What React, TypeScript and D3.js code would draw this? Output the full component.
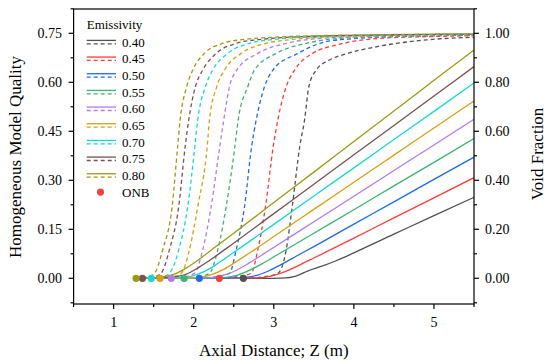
import React from 'react';
import * as d3 from 'd3';

const emissivity = ['0.40', '0.45', '0.50', '0.55', '0.60', '0.65', '0.70', '0.75', '0.80'];
const colors = ['#505050', '#FF3B3B', '#1E6BE6', '#3CB371', '#B27AEE', '#D6A012', '#18D6D6', '#7A5050', '#9A9A14'];
const onbZ = [2.62, 2.32, 2.07, 1.88, 1.72, 1.58, 1.47, 1.36, 1.28];

const qual040 = [[2.62,0],[3.0,0],[3.15,0.001],[3.25,0.005],[3.33,0.012],[3.42,0.022],[3.6,0.037],[3.8,0.056],[4.0,0.078],[4.5,0.135],[5.0,0.192],[5.5,0.248]];
const qual045 = [[2.32,0],[2.7,0.001],[2.85,0.002],[3.0,0.009],[3.15,0.021],[3.3,0.038],[3.5,0.062],[4.0,0.123],[4.5,0.185],[5.0,0.246],[5.5,0.308]];
const qual050 = [[2.07,0],[2.49,0.001],[2.64,0.003],[2.79,0.009],[2.94,0.023],[3.09,0.042],[3.29,0.069],[3.5,0.097],[4.0,0.166],[4.5,0.234],[5.0,0.303],[5.5,0.371]];
const qual055 = [[1.88,0],[2.25,0.001],[2.4,0.003],[2.55,0.01],[2.7,0.025],[2.85,0.044],[3.05,0.073],[3.5,0.138],[4.0,0.21],[4.5,0.283],[5.0,0.355],[5.5,0.428]];
const qual060 = [[1.72,0],[2.1,0.001],[2.25,0.003],[2.4,0.011],[2.55,0.027],[2.7,0.048],[2.9,0.079],[3.5,0.173],[4.0,0.251],[4.5,0.33],[5.0,0.408],[5.5,0.487]];
const qual065 = [[1.58,0],[1.93,0.001],[2.08,0.003],[2.23,0.012],[2.38,0.028],[2.53,0.051],[2.73,0.083],[3.0,0.128],[3.5,0.211],[4.0,0.294],[4.5,0.377],[5.0,0.46],[5.5,0.543]];
const qual070 = [[1.47,0],[1.745,0.001],[1.895,0.003],[2.045,0.012],[2.195,0.029],[2.345,0.053],[2.545,0.087],[3.0,0.165],[3.5,0.252],[4.0,0.338],[4.5,0.425],[5.0,0.511],[5.5,0.598]];
const qual075 = [[1.36,0],[1.6,0.001],[1.75,0.004],[1.9,0.012],[2.05,0.031],[2.2,0.055],[2.4,0.09],[3.0,0.198],[3.5,0.288],[4.0,0.378],[4.5,0.468],[5.0,0.558],[5.5,0.648]];
const qual080 = [[1.28,0],[1.46,0.001],[1.61,0.004],[1.76,0.013],[1.91,0.032],[2.06,0.057],[2.26,0.094],[2.5,0.138],[3.0,0.232],[3.5,0.325],[4.0,0.419],[4.5,0.512],[5.0,0.606],[5.5,0.699]];

const void040 = [[2.62,0],[2.85,0.005],[3.05,0.02],[3.155,0.116],[3.23,0.292],[3.325,0.54],[3.384,0.646],[3.4375,0.782],[3.53,0.85],[3.696,0.891],[3.925,0.918],[4.28,0.945],[4.905,0.973],[5.5,0.984]];
const void045 = [[2.32,0],[2.5,0.005],[2.7175,0.02],[2.8,0.116],[2.896,0.292],[2.994,0.54],[3.05,0.646],[3.155,0.782],[3.259,0.85],[3.484,0.918],[3.78,0.952],[4.359,0.98],[5.0,0.987],[5.5,0.99]];
const void050 = [[2.07,0],[2.25,0.005],[2.446,0.02],[2.53,0.116],[2.634,0.292],[2.724,0.54],[2.78,0.646],[2.884,0.782],[2.9875,0.85],[3.3,0.918],[3.655,0.966],[4.0,0.978],[4.36,0.985],[5.0,0.99],[5.5,0.993]];
const void055 = [[1.88,0],[2.05,0.005],[2.196,0.02],[2.3,0.116],[2.405,0.292],[2.515,0.54],[2.555,0.646],[2.675,0.782],[2.759,0.85],[3.03,0.918],[3.405,0.959],[3.7,0.976],[4.0,0.982],[4.5,0.987],[5.0,0.991],[5.5,0.993]];
const void060 = [[1.72,0],[1.88,0.005],[2.009,0.02],[2.1125,0.116],[2.2175,0.292],[2.326,0.54],[2.375,0.646],[2.446,0.782],[2.5375,0.85],[2.8,0.918],[3.155,0.959],[3.5,0.977],[4.0,0.985],[4.5,0.99],[5.0,0.993],[5.5,0.995]];
const void065 = [[1.58,0],[1.72,0.005],[1.8425,0.02],[1.946,0.116],[2.05,0.292],[2.169,0.54],[2.196,0.646],[2.2875,0.782],[2.384,0.85],[2.5925,0.918],[2.905,0.959],[3.2,0.974],[3.5,0.982],[4.0,0.988],[4.5,0.992],[5.0,0.994],[5.5,0.996]];
const void070 = [[1.47,0],[1.6,0.005],[1.696,0.02],[1.8125,0.116],[1.925,0.292],[2.015,0.54],[2.05,0.646],[2.146,0.782],[2.2375,0.85],[2.425,0.918],[2.696,0.959],[3.0,0.975],[3.5,0.985],[4.0,0.99],[4.5,0.993],[5.0,0.995],[5.5,0.997]];
const void075 = [[1.36,0],[1.5,0.005],[1.5925,0.02],[1.696,0.116],[1.8125,0.292],[1.894,0.54],[1.9375,0.646],[2.021,0.782],[2.1125,0.85],[2.28,0.918],[2.53,0.959],[2.8,0.974],[3.0,0.98],[3.5,0.988],[4.0,0.992],[4.5,0.994],[5.0,0.996],[5.5,0.997]];
const void080 = [[1.28,0],[1.42,0.005],[1.509,0.02],[1.6125,0.116],[1.73,0.292],[1.8,0.54],[1.83,0.646],[1.9125,0.782],[1.9875,0.85],[2.134,0.918],[2.359,0.959],[2.6,0.974],[3.0,0.984],[3.5,0.99],[4.0,0.993],[4.5,0.995],[5.0,0.997],[5.5,0.998]];

const qualitySeries = [qual040, qual045, qual050, qual055, qual060, qual065, qual070, qual075, qual080];
const voidSeries = [void040, void045, void050, void055, void060, void065, void070, void075, void080];

const xTicks = [1, 2, 3, 4, 5];
const xMinor = [0.5, 1.5, 2.5, 3.5, 4.5, 5.5];
const yLeftTicks = [0, 0.15, 0.3, 0.45, 0.6, 0.75];
const yLeftMinor = [-0.075, 0.075, 0.225, 0.375, 0.525, 0.675, 0.825];
const yRightTicks = [0, 0.2, 0.4, 0.6, 0.8, 1.0];
const yRightMinor = [-0.1, 0.1, 0.3, 0.5, 0.7, 0.9, 1.1];

const FONT = '"Liberation Serif", "Times New Roman", serif';

export default function App() {
  const W = 550, H = 361;
  const L = 73.6, R = 474, T = 9, B = 304;
  const x = d3.scaleLinear().domain([0.5, 5.5]).range([L, R]);
  const yL = d3.scaleLinear().domain([-0.0787, 0.8244]).range([B, T]);
  const yR = d3.scaleLinear().domain([-0.105, 1.0992]).range([B, T]);
  const lineQ = d3.line<number[]>().x(d => x(d[0])).y(d => yL(d[1])).curve(d3.curveMonotoneX);
  const lineV = d3.line<number[]>().x(d => x(d[0])).y(d => yR(d[1])).curve(d3.curveMonotoneX);
  const clip = (v: number) => v >= T - 1 && v <= B + 1;

  const legX = 86.7, legX2 = 116, legTextX = 122;
  const rowBase = (i: number) => 46.5 + i * 16.67;

  return (
    <svg width={W} height={H} style={{ position: 'absolute', left: 0, top: 0, background: '#fff' }} fontFamily={FONT}>
      <defs>
        <clipPath id="plotclip"><rect x={L} y={T} width={R - L} height={B - T} /></clipPath>
      </defs>
      <g clipPath="url(#plotclip)">
        {voidSeries.map((s, i) => (
          <path key={'v' + i} d={lineV(s) || ''} fill="none" stroke={colors[i]} strokeWidth={1.3} strokeDasharray="4,3" />
        ))}
        {qualitySeries.map((s, i) => (
          <path key={'q' + i} d={lineQ(s) || ''} fill="none" stroke={colors[i]} strokeWidth={1.3} />
        ))}
      </g>
      {onbZ.map((z, i) => (
        <circle key={'m' + i} cx={x(z)} cy={yL(0)} r={3.6} fill={colors[i]} />
      ))}
      {/* frame */}
      <rect x={L} y={T} width={R - L} height={B - T} fill="none" stroke="#000" strokeWidth={1.2} />
      {/* bottom axis */}
      {xTicks.map(t => (
        <g key={'xt' + t}>
          <line x1={x(t)} x2={x(t)} y1={B} y2={B + 5} stroke="#000" strokeWidth={1.2} />
          <text x={x(t)} y={327} fontSize={14} textAnchor="middle">{t}</text>
        </g>
      ))}
      {xMinor.map(t => (
        <line key={'xm' + t} x1={x(t)} x2={x(t)} y1={B} y2={B + 3} stroke="#000" strokeWidth={1.2} />
      ))}
      <text x={(L + R) / 2} y={356} fontSize={17} textAnchor="middle">Axial Distance; Z (m)</text>
      {/* left axis */}
      {yLeftTicks.map(t => (
        <g key={'yl' + t}>
          <line x1={L - 5} x2={L} y1={yL(t)} y2={yL(t)} stroke="#000" strokeWidth={1.2} />
          <text x={62} y={yL(t) + 4.8} fontSize={14} textAnchor="end">{t.toFixed(2)}</text>
        </g>
      ))}
      {yLeftMinor.filter(t => clip(yL(t))).map(t => (
        <line key={'ylm' + t} x1={L - 3} x2={L} y1={yL(t)} y2={yL(t)} stroke="#000" strokeWidth={1.2} />
      ))}
      <text transform={`translate(20.5,157) rotate(-90)`} fontSize={17} textAnchor="middle">Homogeneous Model Quality</text>
      {/* right axis */}
      {yRightTicks.map(t => (
        <g key={'yr' + t}>
          <line x1={R} x2={R + 5} y1={yR(t)} y2={yR(t)} stroke="#000" strokeWidth={1.2} />
          <text x={485} y={yR(t) + 4.8} fontSize={14} textAnchor="start">{t.toFixed(2)}</text>
        </g>
      ))}
      {yRightMinor.filter(t => clip(yR(t))).map(t => (
        <line key={'yrm' + t} x1={R} x2={R + 3} y1={yR(t)} y2={yR(t)} stroke="#000" strokeWidth={1.2} />
      ))}
      <text transform={`translate(543,154) rotate(-90)`} fontSize={17} textAnchor="middle">Void Fraction</text>
      {/* legend */}
      <text x={legX} y={28.7} fontSize={13}>Emissivity</text>
      {emissivity.map((e, i) => {
        const yc = rowBase(i) - 4.5;
        return (
          <g key={'lg' + i}>
            <line x1={legX} x2={legX2} y1={yc - 1.6} y2={yc - 1.6} stroke={colors[i]} strokeWidth={1.3} />
            <line x1={legX} x2={legX2} y1={yc + 1.8} y2={yc + 1.8} stroke={colors[i]} strokeWidth={1.3} strokeDasharray="4,3" />
            <text x={legTextX} y={rowBase(i)} fontSize={13}>{e}</text>
          </g>
        );
      })}
      <circle cx={100.5} cy={rowBase(9) - 4.5} r={3.6} fill="#F04545" />
      <text x={legTextX} y={rowBase(9)} fontSize={13}>ONB</text>
    </svg>
  );
}
